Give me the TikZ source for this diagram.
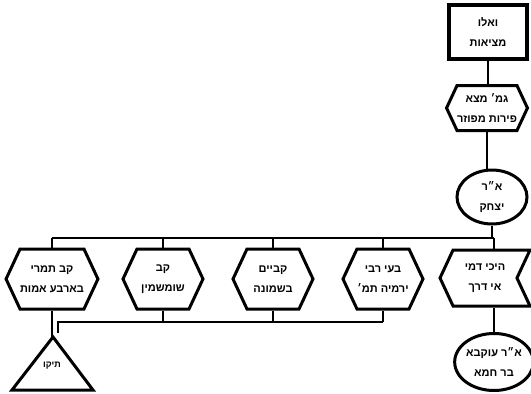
\documentclass[tikz,border=0pt]{standalone}
\usepackage{fontspec}
\newfontfamily\heb[Script=Hebrew,BoldFont={Liberation Sans Bold}]{Liberation Sans}
\TeXXeTstate=1
\usetikzlibrary{shapes.geometric,shapes.symbols}
\tikzset{
  base/.style={draw=black, line width=3pt, fill=white, align=center, inner sep=0pt,
    font=\heb\bfseries\fontsize{11}{20}\selectfont},
  rectbox/.style={base, rectangle, line width=4.5pt, minimum width=78pt, minimum height=54pt},
  hexbox/.style={base, signal, signal to=west and east, signal pointer angle=130,
    minimum width=80pt, minimum height=60pt},
  chevbox/.style={base, signal, signal to=west, signal from=east, signal pointer angle=130,
    minimum width=90pt, minimum height=56pt},
  ellbox/.style={base, ellipse},
  link/.style={line width=1.8pt},
}
\begin{document}
\begin{tikzpicture}[x=1pt,y=-1pt]
\useasboundingbox (0,0) rectangle (531,394);
% right column
\node[rectbox] (a) at (488,32) {\beginR ואלו\endR\\\beginR מציאות\endR};
\node[hexbox, minimum width=70pt, minimum height=45pt] (b) at (487,108) {\beginR גמ׳ מצא\endR\\\beginR פירות מפוזר\endR};
\node[ellbox, minimum width=70pt, minimum height=54pt] (c) at (492,197) {\beginR א״ר\endR\\\beginR יצחק\endR};
\node[chevbox] (d) at (485,278) {\beginR היכי דמי\endR\\\beginR אי דרך\endR};
\node[ellbox, minimum width=72pt, minimum height=57pt] (e) at (494,362) {\beginR א״ר עוקבא\endR\\\beginR בר חמא\endR};
% row of hexagons
\node[hexbox] (h1) at (383,279) {\beginR בעי רבי\endR\\\beginR ירמיה תמ׳\endR};
\node[hexbox] (h2) at (273,279) {\beginR קביים\endR\\\beginR בשמונה\endR};
\node[hexbox] (h3) at (163,279) {\beginR קב\endR\\\beginR שומשמין\endR};
\node[hexbox] (h4) at (52,279) {\beginR קב תמרי\endR\\\beginR בארבע אמות\endR};
% triangle
\coordinate (tri) at (53,337);
\draw[line width=3pt, line join=miter] (tri) -- (93,390) -- (12,390) -- cycle;
\node[font=\heb\bfseries\fontsize{9}{11}\selectfont, inner sep=0pt] (t) at (52,366) {\beginR תיקו\endR};
% connectors
\coordinate (busR) at (494,238);
\coordinate (busL) at (52,238);
\coordinate (lb) at (58,322);
\coordinate (lbend) at (58,333);
\draw[link] (a.south) -- (a.south |- b.north);
\draw[link] (b.south) -- (b.south |- c.north);
\draw[link] (c.south) -- (c.south |- busR);
\draw[link] (busL) -- (busR);
\draw[link] (busR) -- (busR |- d.north);
\draw[link] (h1.north |- busR) -- (h1.north);
\draw[link] (h2.north |- busR) -- (h2.north);
\draw[link] (h3.north |- busR) -- (h3.north);
\draw[link] (busL) -- (h4.north);
\draw[link] (busR |- d.south) -- (busR |- e.north);
\draw[link] (h1.south) -- (h1.south |- lb);
\draw[link] (h2.south) -- (h2.south |- lb);
\draw[link] (h3.south) -- (h3.south |- lb);
\draw[link] (h1.south |- lb) -- (lb) -- (lbend);
\draw[link] (h4.south) -- (h4.south |- tri);
\end{tikzpicture}
\end{document}
